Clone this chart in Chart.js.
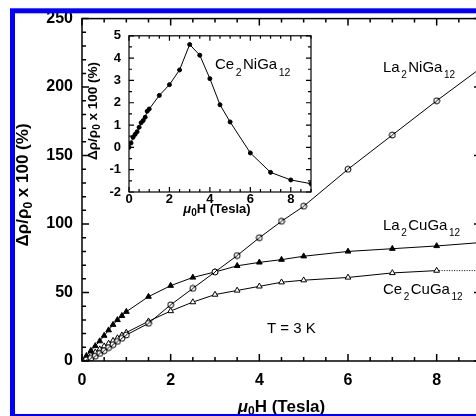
<!DOCTYPE html>
<html>
<head>
<meta charset="utf-8">
<script src="https://cdn.jsdelivr.net/npm/chart.js@4"></script>
<style>
  html, body { margin: 0; padding: 0; background: #fff; overflow: hidden; }
  #wrap { position: relative; width: 476px; height: 416px; overflow: hidden; }
  #main { position: absolute; left: 0; top: 0; }
  #inset { position: absolute; left: 80px; top: 20px; }
</style>
</head>
<body>
<div id="wrap">
  <canvas id="main" width="490" height="416"></canvas>
  <canvas id="inset" width="240" height="205"></canvas>
</div>
<script>
// applied field (Tesla)
const field = [0, 0.1, 0.2, 0.3, 0.4, 0.5, 0.6, 0.7, 0.8, 0.9, 1, 1.5, 2, 2.5, 3, 3.5, 4, 4.5, 5, 6, 7, 8, 9];

// main panel, magnetoresistance in %
const la2NiGa12 = [0, 0.8, 2, 3.5, 5.5, 7.5, 9.8, 12, 14.3, 16.6, 19, 27.5, 41, 53, 65, 77, 90, 102, 113, 140, 165, 190, 214];
const la2CuGa12 = [0, 3.8, 7.5, 11, 14.5, 18.5, 22.5, 26.5, 30, 33, 36, 47, 55, 61, 65, 69.5, 72, 74, 76.5, 80, 82, 84, 86.5];
const ce2CuGa12 = [0, 2, 4.2, 6.4, 8.6, 10.8, 12.8, 14.8, 16.8, 18.8, 20.8, 29, 36.5, 43, 48.5, 51.5, 54.5, 57.5, 59, 61, 64.3, 66, 66];

// inset
const ce2NiGa12 = [0, 0.2, 0.45, 0.58, 0.7, 0.9, 1.1, 1.2, 1.35, 1.62, 1.72, 2.33, 2.81, 3.47, 4.61, 4.13, 3.08, 1.91, 1.14, -0.25, -1.12, -1.46, -1.63];

const mainXTicks = [0, 2, 4, 6, 8];
const mainYTicks = [0, 50, 100, 150, 200, 250];
const insetXTicks = [0, 2, 4, 6, 8];
const insetYTicks = [-2, -1, 0, 1, 2, 3, 4, 5];

const FONT = '"Liberation Sans", Arial, Helvetica, sans-serif';

const pts = (ys) => field.map((x, i) => ({ x: x, y: ys[i] }));

// circle with a slash, like the scanned markers
function slashCircle(r) {
  const s = Math.ceil(r * 2 + 2);
  const c = document.createElement('canvas');
  c.width = s; c.height = s;
  const g = c.getContext('2d');
  g.fillStyle = '#fff'; g.strokeStyle = '#000'; g.lineWidth = 1;
  g.beginPath(); g.arc(s / 2, s / 2, r, 0, Math.PI * 2); g.fill(); g.stroke();
  g.beginPath();
  g.moveTo(s / 2 - r * 0.7, s / 2 + r * 0.7);
  g.lineTo(s / 2 + r * 0.7, s / 2 - r * 0.7);
  g.stroke();
  return c;
}

// text with subscripts; parts = [[text, 'n'|'s'|'i'], ...]
function rich(ctx, parts, x, y, o) {
  const w8 = o.bold ? 'bold ' : '';
  const fontFor = (k) => (k === 'i' ? 'italic ' : '') + w8 + (k === 's' ? o.sub : o.size) + 'px ' + FONT;
  const gap = o.gap || 0;
  let w = 0;
  parts.forEach(([t, k]) => {
    ctx.font = fontFor(k);
    w += ctx.measureText(t).width + (k === 's' ? gap * 2 : 0);
  });
  let cx = o.align === 'center' ? x - w / 2 : x;
  ctx.textBaseline = 'alphabetic';
  ctx.textAlign = 'left';
  parts.forEach(([t, k]) => {
    ctx.font = fontFor(k);
    if (k === 's') cx += gap;
    ctx.fillText(t, cx, k === 's' ? y + o.dy : y);
    cx += ctx.measureText(t).width + (k === 's' ? gap : 0);
  });
}

// ticks pointing into the plot on all four sides, plus the frame
function innerTicks(chart, o) {
  const { ctx, chartArea: a, scales: { x, y } } = chart;
  ctx.save();
  ctx.strokeStyle = '#000';
  ctx.lineWidth = o.lw;
  ctx.beginPath();
  for (let v = x.min; v <= x.max + 1e-9; v += o.xMinor) {
    const major = Math.abs(v / o.xMajor - Math.round(v / o.xMajor)) < 1e-6;
    const len = major ? o.major : o.minor;
    const p = x.getPixelForValue(v);
    ctx.moveTo(p, a.bottom); ctx.lineTo(p, a.bottom - len);
    ctx.moveTo(p, a.top); ctx.lineTo(p, a.top + len);
  }
  for (let v = y.min; v <= y.max + 1e-9; v += o.yMinor) {
    const major = Math.abs(v / o.yMajor - Math.round(v / o.yMajor)) < 1e-6;
    const len = major ? o.major : o.minor;
    const p = y.getPixelForValue(v);
    ctx.moveTo(a.left, p); ctx.lineTo(a.left + len, p);
    ctx.moveTo(a.right, p); ctx.lineTo(a.right - len, p);
  }
  ctx.stroke();
  ctx.strokeRect(a.left, a.top, a.right - a.left, a.bottom - a.top);
  ctx.restore();
}

const mainDecor = {
  id: 'mainDecor',
  afterDraw(chart) {
    const ctx = chart.ctx;
    const a = chart.chartArea;
    innerTicks(chart, { xMinor: 0.5, xMajor: 2, yMinor: 10, yMajor: 50, major: 7, minor: 4, lw: 1.5 });
    ctx.save();
    ctx.fillStyle = '#000';
    rich(ctx, [['μ', 'i'], ['0', 's'], ['H (Tesla)', 'n']], (a.left + a.right) / 2, 412,
      { size: 17, sub: 12, dy: 3, bold: true, align: 'center' });
    ctx.save();
    ctx.translate(28, 185);
    ctx.rotate(-Math.PI / 2);
    rich(ctx, [['Δρ/ρ', 'n'], ['0', 's'], [' x 100 (%)', 'n']], 0, 0,
      { size: 17, sub: 12, dy: 4, bold: true, align: 'center' });
    ctx.restore();
    const lab = { size: 15, sub: 10, dy: 6, gap: 1.5 };
    rich(ctx, [['La', 'n'], ['2', 's'], ['NiGa', 'n'], ['12', 's']], 383, 72, lab);
    rich(ctx, [['La', 'n'], ['2', 's'], ['CuGa', 'n'], ['12', 's']], 383, 229.5, lab);
    rich(ctx, [['Ce', 'n'], ['2', 's'], ['CuGa', 'n'], ['12', 's']], 383, 293.5, lab);
    rich(ctx, [['T = 3 K', 'n']], 267, 333, lab);
    // blue frame of the scanned figure
    ctx.strokeStyle = '#0000ff';
    ctx.lineWidth = 5;
    ctx.strokeRect(12.5, 10.8, 600, 405.7);
    ctx.restore();
  }
};

const insetDecor = {
  id: 'insetDecor',
  afterDraw(chart) {
    const ctx = chart.ctx;
    const a = chart.chartArea;
    innerTicks(chart, { xMinor: 0.5, xMajor: 2, yMinor: 0.5, yMajor: 1, major: 5, minor: 3, lw: 1.2 });
    ctx.save();
    ctx.fillStyle = '#000';
    rich(ctx, [['μ', 'i'], ['0', 's'], ['H (Tesla)', 'n']], 137, 192.5,
      { size: 13, sub: 10, dy: 3, bold: true, align: 'center' });
    ctx.save();
    ctx.translate(17, 91);
    ctx.rotate(-Math.PI / 2);
    rich(ctx, [['Δρ/ρ', 'n'], ['0', 's'], [' x 100 (%)', 'n']], 0, 0,
      { size: 13.5, sub: 10, dy: 3, bold: true, align: 'center' });
    ctx.restore();
    rich(ctx, [['Ce', 'n'], ['2', 's'], ['NiGa', 'n'], ['12', 's']], 135, 48.5,
      { size: 15, sub: 10.5, dy: 7, gap: 1.5 });
    ctx.restore();
  }
};

const common = {
  responsive: false,
  animation: false,
  events: [],
  plugins: { legend: { display: false }, tooltip: { enabled: false } },
};

new Chart(document.getElementById('main').getContext('2d'), {
  type: 'scatter',
  data: {
    datasets: [
      {
        data: pts(la2NiGa12), showLine: true, borderColor: '#000', borderWidth: 1,
        pointStyle: slashCircle(3), pointRadius: 3,
      },
      {
        data: pts(la2CuGa12), showLine: true, borderColor: '#000', borderWidth: 1,
        pointStyle: 'triangle', pointRadius: 3.3, pointBackgroundColor: '#000', pointBorderColor: '#000',
      },
      {
        data: pts(ce2CuGa12), showLine: true, borderColor: '#000', borderWidth: 1,
        pointStyle: 'triangle', pointRadius: 3.3, pointBackgroundColor: '#fff', pointBorderColor: '#000',
        pointBorderWidth: 1,
        segment: { borderDash: (c) => (c.p1DataIndex === field.length - 1 ? [1, 1.5] : undefined) },
      },
    ],
  },
  options: {
    ...common,
    layout: { padding: { left: 0, top: 16, right: 9, bottom: 0 } },
    scales: {
      x: {
        type: 'linear', min: 0, max: 9,
        afterBuildTicks: (s) => { s.ticks = mainXTicks.map((v) => ({ value: v })); },
        afterFit: (s) => { s.height = 55; },
        grid: { display: false, drawTicks: false },
        border: { display: false },
        ticks: { padding: 10, color: '#000', font: { family: FONT, size: 16, weight: 'bold' } },
      },
      y: {
        type: 'linear', min: 0, max: 250,
        afterBuildTicks: (s) => { s.ticks = mainYTicks.map((v) => ({ value: v })); },
        afterFit: (s) => { s.width = 82; },
        grid: { display: false, drawTicks: false },
        border: { display: false },
        ticks: { padding: 9, color: '#000', font: { family: FONT, size: 16, weight: 'bold' } },
      },
    },
  },
  plugins: [mainDecor],
});

new Chart(document.getElementById('inset').getContext('2d'), {
  type: 'scatter',
  data: {
    datasets: [
      {
        data: pts(ce2NiGa12), showLine: true, borderColor: '#000', borderWidth: 1,
        pointStyle: 'circle', pointRadius: 2, pointBackgroundColor: '#000', pointBorderColor: '#000',
      },
    ],
  },
  options: {
    ...common,
    layout: { padding: { left: 0, top: 12, right: 9, bottom: 0 } },
    scales: {
      x: {
        type: 'linear', min: 0, max: 9,
        afterBuildTicks: (s) => { s.ticks = insetXTicks.map((v) => ({ value: v })); },
        afterFit: (s) => { s.height = 33; },
        grid: { display: false, drawTicks: false },
        border: { display: false },
        ticks: { padding: 0, color: '#000', font: { family: FONT, size: 13, weight: 'bold' } },
      },
      y: {
        type: 'linear', min: -2, max: 5,
        afterBuildTicks: (s) => { s.ticks = insetYTicks.map((v) => ({ value: v })); },
        afterFit: (s) => { s.width = 49; },
        grid: { display: false, drawTicks: false },
        border: { display: false },
        ticks: { padding: 8, color: '#000', font: { family: FONT, size: 13, weight: 'bold' } },
      },
    },
  },
  plugins: [insetDecor],
});
</script>
</body>
</html>
